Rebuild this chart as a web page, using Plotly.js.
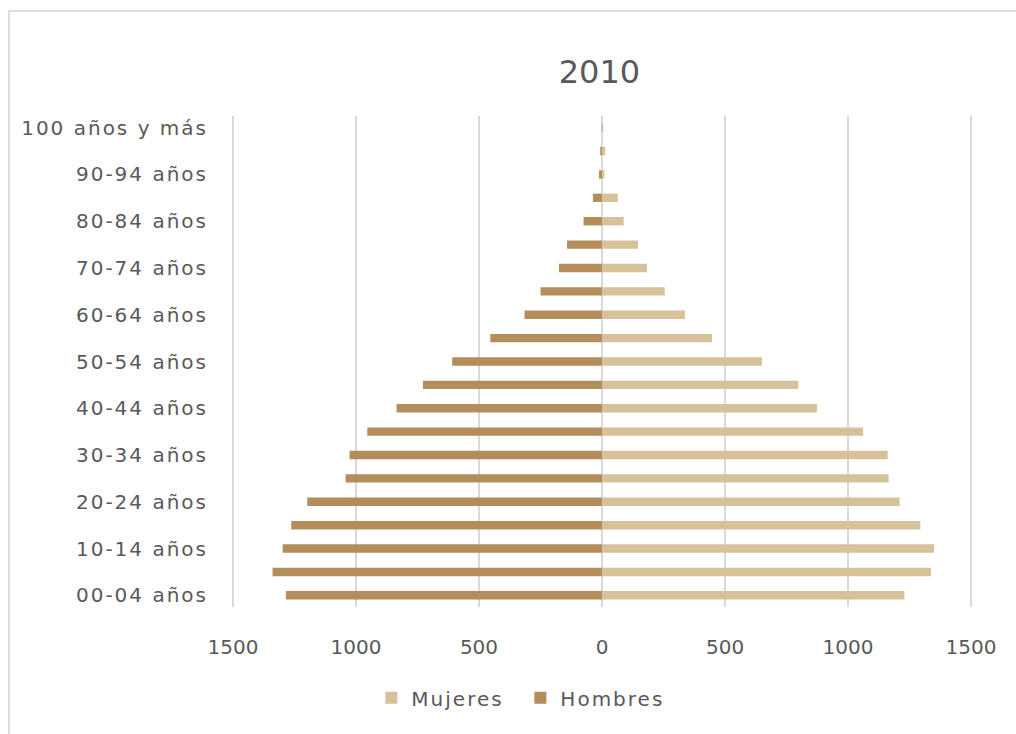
<!DOCTYPE html>
<html>
<head>
<meta charset="utf-8">
<script src="https://cdn.plot.ly/plotly-3.0.1.min.js"></script>
<style>
  html, body { margin: 0; padding: 0; width: 1016px; height: 734px; overflow: hidden; background: #fff; }
  #frame { position: absolute; left: 8px; top: 10px; width: 1100px; height: 800px; border: 2px solid #dedede; box-sizing: border-box; }
  #chart { position: absolute; left: 0; top: 0; width: 1016px; height: 734px; }
  #chart .ytick text { letter-spacing: 2px; }
  #chart .legendtext { letter-spacing: 2px; }
</style>
</head>
<body>
<div id="frame"></div>
<div id="chart"></div>
<script>
const categories = [
  "00-04 años", "05-09 años", "10-14 años", "15-19 años", "20-24 años",
  "25-29 años", "30-34 años", "35-39 años", "40-44 años", "45-49 años",
  "50-54 años", "55-59 años", "60-64 años", "65-69 años", "70-74 años",
  "75-79 años", "80-84 años", "85-89 años", "90-94 años", "95-99 años",
  "100 años y más"
];
const mujeres = [1229, 1337, 1350, 1294, 1210, 1165, 1161, 1061, 874, 798,
                 650, 447, 337, 255, 183, 146, 88, 64, 10, 13, 5];
const hombres = [1285, 1339, 1298, 1263, 1198, 1042, 1026, 954, 835, 728,
                 609, 454, 315, 250, 175, 142, 75, 37, 12, 7, 1];
const labeledCategories = ["00-04 años", "10-14 años", "20-24 años", "30-34 años",
  "40-44 años", "50-54 años", "60-64 años", "70-74 años", "80-84 años",
  "90-94 años", "100 años y más"];
const xTickVals = [-1500, -1000, -500, 0, 500, 1000, 1500];
const xTickText = ["1500", "1000", "500", "0", "500", "1000", "1500"];

const colMujeres = "#d6c19b";
const colHombres = "#b38d5a";
const textCol = "#595959";
const font = "DejaVu Sans, sans-serif";

const traces = [
  {
    type: "bar", orientation: "h", name: "Mujeres",
    y: categories, x: mujeres,
    marker: { color: colMujeres }
  },
  {
    type: "bar", orientation: "h", name: "Hombres",
    y: categories, x: hombres.map(v => -v),
    marker: { color: colHombres }
  }
];

const layout = {
  width: 1016, height: 734,
  paper_bgcolor: "rgba(0,0,0,0)", plot_bgcolor: "rgba(0,0,0,0)",
  margin: { l: 230, r: 42, t: 116, b: 127 },
  font: { family: font, color: textCol, size: 20 },
  title: { text: "2010", font: { family: font, size: 32, color: textCol },
           x: 0.59, xanchor: "center", y: 0.902, yanchor: "middle" },
  barmode: "overlay",
  bargap: 0.64,
  showlegend: true,
  legend: { orientation: "h", x: 0.19, xanchor: "left", y: -0.185, yanchor: "middle",
            entrywidth: 104, entrywidthmode: "pixels",
            font: { family: font, size: 20, color: textCol }, traceorder: "normal" },
  xaxis: {
    range: [-1512, 1512], tickvals: xTickVals, ticktext: xTickText,
    showgrid: true, gridcolor: "#d9d9d9", gridwidth: 2,
    zeroline: true, zerolinecolor: "#d9d9d9", zerolinewidth: 2,
    ticks: "outside", ticklen: 22, tickcolor: "rgba(0,0,0,0)",
    showline: false, fixedrange: true,
    tickfont: { family: font, size: 20, color: textCol }
  },
  yaxis: {
    type: "category", categoryorder: "array", categoryarray: categories,
    range: [-0.5, 20.5],
    tickvals: labeledCategories,
    showgrid: false, zeroline: false, showline: false,
    ticks: "outside", ticklen: 17, tickcolor: "rgba(0,0,0,0)",
    fixedrange: true,
    tickfont: { family: font, size: 20, color: textCol }
  }
};

Plotly.newPlot("chart", traces, layout, { displayModeBar: false, staticPlot: true });
</script>
</body>
</html>
